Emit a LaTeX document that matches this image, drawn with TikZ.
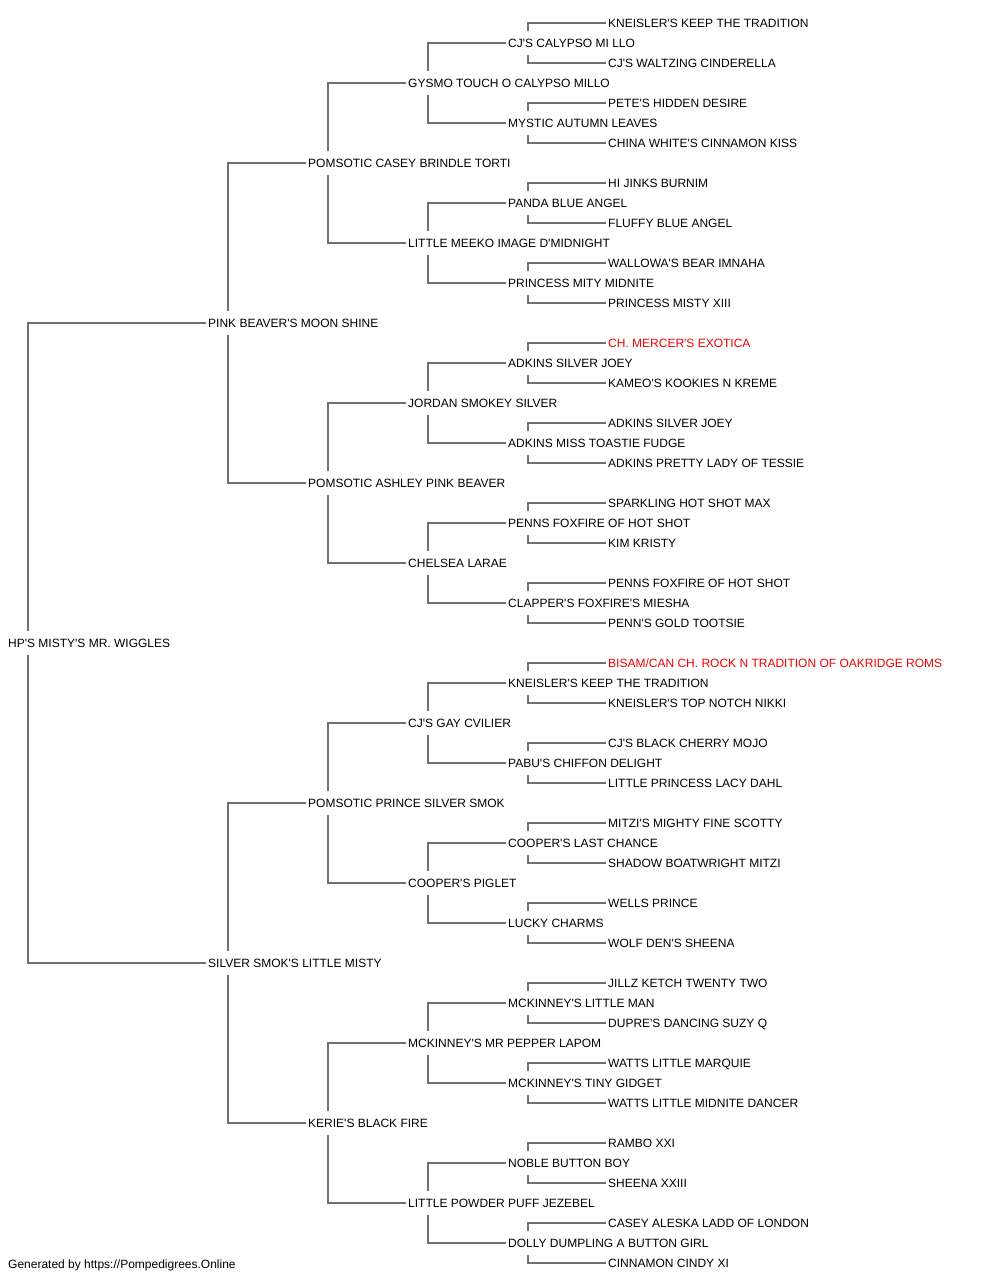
\documentclass[tikz,border=0pt]{standalone}
\usepackage{fontspec}
\setmainfont{Liberation Sans}[Ligatures=TeXOff]
\usetikzlibrary{backgrounds}
\definecolor{linkgray}{RGB}{112,112,112}
\definecolor{hilite}{RGB}{240,0,0}
\tikzset{
  person/.style={anchor=base west, fill=white, inner xsep=2pt, inner ysep=6pt,
    text height=10pt, text depth=2pt, font=\fontsize{12}{14}\selectfont, text=black},
  redperson/.style={person, text=hilite},
  link/.style={draw=linkgray, line width=1.8pt},
  footnote/.style={anchor=base west, inner sep=0pt, font=\fontsize{12}{14}\selectfont}
}
\begin{document}
\begin{tikzpicture}[x=1pt,y=-1pt]
\useasboundingbox (0,0) rectangle (1000,1280);
% generation 0
\node[person] (n1) at (6,647.3) {HP'S MISTY'S MR. WIGGLES};
% generation 1
\node[person] (n2) at (206,327.3) {PINK BEAVER'S MOON SHINE};
\node[person] (n3) at (206,967.3) {SILVER SMOK'S LITTLE MISTY};
% generation 2
\node[person] (n4) at (306,167.3) {POMSOTIC CASEY BRINDLE TORTI};
\node[person] (n5) at (306,487.3) {POMSOTIC ASHLEY PINK BEAVER};
\node[person] (n6) at (306,807.3) {POMSOTIC PRINCE SILVER SMOK};
\node[person] (n7) at (306,1127.3) {KERIE'S BLACK FIRE};
% generation 3
\node[person] (n8) at (406,87.3) {GYSMO TOUCH O CALYPSO MILLO};
\node[person] (n9) at (406,247.3) {LITTLE MEEKO IMAGE D'MIDNIGHT};
\node[person] (n10) at (406,407.3) {JORDAN SMOKEY SILVER};
\node[person] (n11) at (406,567.3) {CHELSEA LARAE};
\node[person] (n12) at (406,727.3) {CJ'S GAY CVILIER};
\node[person] (n13) at (406,887.3) {COOPER'S PIGLET};
\node[person] (n14) at (406,1047.3) {MCKINNEY'S MR PEPPER LAPOM};
\node[person] (n15) at (406,1207.3) {LITTLE POWDER PUFF JEZEBEL};
% generation 4
\node[person] (n16) at (506,47.3) {CJ'S CALYPSO MI LLO};
\node[person] (n17) at (506,127.3) {MYSTIC AUTUMN LEAVES};
\node[person] (n18) at (506,207.3) {PANDA BLUE ANGEL};
\node[person] (n19) at (506,287.3) {PRINCESS MITY MIDNITE};
\node[person] (n20) at (506,367.3) {ADKINS SILVER JOEY};
\node[person] (n21) at (506,447.3) {ADKINS MISS TOASTIE FUDGE};
\node[person] (n22) at (506,527.3) {PENNS FOXFIRE OF HOT SHOT};
\node[person] (n23) at (506,607.3) {CLAPPER'S FOXFIRE'S MIESHA};
\node[person] (n24) at (506,687.3) {KNEISLER'S KEEP THE TRADITION};
\node[person] (n25) at (506,767.3) {PABU'S CHIFFON DELIGHT};
\node[person] (n26) at (506,847.3) {COOPER'S LAST CHANCE};
\node[person] (n27) at (506,927.3) {LUCKY CHARMS};
\node[person] (n28) at (506,1007.3) {MCKINNEY'S LITTLE MAN};
\node[person] (n29) at (506,1087.3) {MCKINNEY'S TINY GIDGET};
\node[person] (n30) at (506,1167.3) {NOBLE BUTTON BOY};
\node[person] (n31) at (506,1247.3) {DOLLY DUMPLING A BUTTON GIRL};
% generation 5
\node[person] (n32) at (606,27.3) {KNEISLER'S KEEP THE TRADITION};
\node[person] (n33) at (606,67.3) {CJ'S WALTZING CINDERELLA};
\node[person] (n34) at (606,107.3) {PETE'S HIDDEN DESIRE};
\node[person] (n35) at (606,147.3) {CHINA WHITE'S CINNAMON KISS};
\node[person] (n36) at (606,187.3) {HI JINKS BURNIM};
\node[person] (n37) at (606,227.3) {FLUFFY BLUE ANGEL};
\node[person] (n38) at (606,267.3) {WALLOWA'S BEAR IMNAHA};
\node[person] (n39) at (606,307.3) {PRINCESS MISTY XIII};
\node[redperson] (n40) at (606,347.3) {CH. MERCER'S EXOTICA};
\node[person] (n41) at (606,387.3) {KAMEO'S KOOKIES N KREME};
\node[person] (n42) at (606,427.3) {ADKINS SILVER JOEY};
\node[person] (n43) at (606,467.3) {ADKINS PRETTY LADY OF TESSIE};
\node[person] (n44) at (606,507.3) {SPARKLING HOT SHOT MAX};
\node[person] (n45) at (606,547.3) {KIM KRISTY};
\node[person] (n46) at (606,587.3) {PENNS FOXFIRE OF HOT SHOT};
\node[person] (n47) at (606,627.3) {PENN'S GOLD TOOTSIE};
\node[redperson] (n48) at (606,667.3) {BISAM/CAN CH. ROCK N TRADITION OF OAKRIDGE ROMS};
\node[person] (n49) at (606,707.3) {KNEISLER'S TOP NOTCH NIKKI};
\node[person] (n50) at (606,747.3) {CJ'S BLACK CHERRY MOJO};
\node[person] (n51) at (606,787.3) {LITTLE PRINCESS LACY DAHL};
\node[person] (n52) at (606,827.3) {MITZI'S MIGHTY FINE SCOTTY};
\node[person] (n53) at (606,867.3) {SHADOW BOATWRIGHT MITZI};
\node[person] (n54) at (606,907.3) {WELLS PRINCE};
\node[person] (n55) at (606,947.3) {WOLF DEN'S SHEENA};
\node[person] (n56) at (606,987.3) {JILLZ KETCH TWENTY TWO};
\node[person] (n57) at (606,1027.3) {DUPRE'S DANCING SUZY Q};
\node[person] (n58) at (606,1067.3) {WATTS LITTLE MARQUIE};
\node[person] (n59) at (606,1107.3) {WATTS LITTLE MIDNITE DANCER};
\node[person] (n60) at (606,1147.3) {RAMBO XXI};
\node[person] (n61) at (606,1187.3) {SHEENA XXIII};
\node[person] (n62) at (606,1227.3) {CASEY ALESKA LADD OF LONDON};
\node[person] (n63) at (606,1267.3) {CINNAMON CINDY XI};
% footer
\node[footnote] (footer) at (8,1268) {Generated by https://Pompedigrees.Online};
% connectors
\begin{pgfonlayer}{background}
\fill[white] (0,0) rectangle (1000,1280);
\foreach \i in {1,...,31}{
  \pgfmathtruncatemacro\f{2*\i}
  \pgfmathtruncatemacro\m{2*\i+1}
  \draw[link] (n\f.west) -| ([xshift=22pt]n\i.west) |- (n\m.west);
}
\end{pgfonlayer}
\end{tikzpicture}
\end{document}
